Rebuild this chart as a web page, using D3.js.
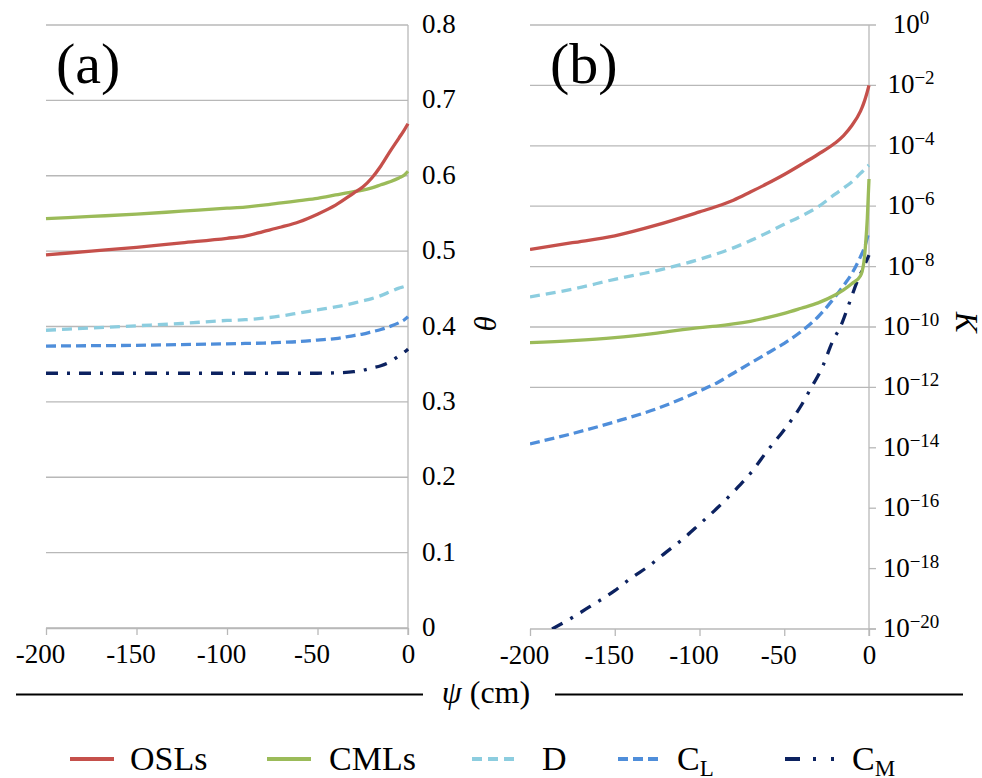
<!DOCTYPE html>
<html>
<head>
<meta charset="utf-8">
<script src="https://cdn.jsdelivr.net/npm/d3@7"></script>
<style>
body{margin:0;background:#fff;}
</style>
</head>
<body>
<div class="canvas"></div>
<script>
// panel (a): water content theta vs psi
const psiA = [-200,-175,-150,-125,-100,-90,-80,-70,-60,-50,-40,-30,-25,-20,-15,-10,-5,-2,0];
const thetaOSL = [.495,.500,.505,.511,.517,.520,.526,.532,.539,.549,.561,.577,.585,.597,.613,.632,.650,.661,.669];
const thetaCML = [.543,.546,.549,.553,.557,.5585,.561,.564,.567,.570,.5745,.579,.581,.584,.588,.592,.597,.601,.606];
const thetaD   = [.395,.398,.401,.404,.408,.409,.411,.414,.418,.422,.426,.431,.434,.437,.441,.446,.451,.453,.455];
const thetaCL  = [.374,.3745,.375,.376,.377,.3775,.378,.379,.380,.382,.384,.388,.390,.393,.396,.400,.405,.409,.413];
const thetaCM  = [.338,.338,.338,.338,.338,.338,.338,.338,.338,.338,.3385,.340,.342,.345,.348,.353,.361,.366,.370];

// panel (b): log10 of conductivity K vs psi
const psiB = [-200,-175,-150,-125,-100,-90,-80,-70,-60,-50,-40,-30,-20,-15,-10,-5,-4,-3,-2,-1,0];
const logOSL = [-7.43,-7.21,-6.98,-6.62,-6.19,-6.01,-5.80,-5.53,-5.25,-4.95,-4.62,-4.28,-3.91,-3.66,-3.32,-2.85,-2.72,-2.57,-2.4,-2.21,-2.0];
const logCML = [-10.52,-10.45,-10.35,-10.2,-10.02,-9.97,-9.90,-9.81,-9.69,-9.55,-9.38,-9.2,-8.94,-8.77,-8.56,-8.3,-8.15,-7.85,-7.25,-6.4,-5.1];
const logD   = [-9.0,-8.75,-8.42,-8.13,-7.76,-7.58,-7.38,-7.14,-6.88,-6.6,-6.33,-6.02,-5.6,-5.4,-5.19,-4.91,-4.86,-4.8,-4.75,-4.69,-4.64];
const logCL  = [-13.87,-13.53,-13.14,-12.7,-12.12,-11.86,-11.53,-11.2,-10.87,-10.54,-10.15,-9.66,-9.0,-8.63,-8.22,-7.67,-7.55,-7.42,-7.25,-7.05,-6.84];
const psiCM  = [-187,-175,-165,-150,-140,-130,-120,-110,-100,-90,-80,-70,-60,-50,-40,-35,-27,-22,-16,-12,-7,-3,0];
const logCM  = [-20.0,-19.62,-19.27,-18.73,-18.3,-17.92,-17.47,-17.03,-16.53,-16.02,-15.46,-14.85,-14.1,-13.4,-12.6,-12.1,-11.26,-10.54,-9.88,-9.27,-8.5,-8.0,-7.62];

const xTicks = [-200,-150,-100,-50,0];
const thetaTicks = [0,0.1,0.2,0.3,0.4,0.5,0.6,0.7,0.8];
const kExps = [0,-2,-4,-6,-8,-10,-12,-14,-16,-18,-20];
const kGridExps = [0,-2,-4,-6,-8,-10,-12];

const names = ["OSLs","CMLs","D","C_L","C_M"];
const colors = ["#C5504B","#9BBB59","#8CCDDF","#4F8EDA","#0C2260"];
const dashes = [null,null,"10,6","10,5","12,9,3,9"];

const W = 982, H = 778;
const SERIF = "Liberation Serif";
const svg = d3.select(".canvas").append("svg").attr("width",W).attr("height",H);

const gridCol = "#B8B8B8";

const xa = d3.scaleLinear().domain([-200,0]).range([46,408]);
const ya = d3.scaleLinear().domain([0,0.8]).range([628,25]);
const xb = d3.scaleLinear().domain([-200,0]).range([530,869]);
const yb = d3.scaleLog().domain([1e-20,1]).range([629,25]);

// ---- panel (a) grid + axes
svg.append("g").selectAll("line").data(thetaTicks).enter().append("line")
  .attr("x1",xa(-200)).attr("x2",xa(0))
  .attr("y1",d=>ya(d)).attr("y2",d=>ya(d))
  .attr("stroke",gridCol).attr("stroke-width",1.3);
svg.append("line").attr("x1",xa(0)).attr("x2",xa(0)).attr("y1",ya(0.8)).attr("y2",ya(0)+7)
  .attr("stroke",gridCol).attr("stroke-width",1.3);
svg.append("g").selectAll("text").data(thetaTicks).enter().append("text")
  .attr("x",xa(0)+14).attr("y",d=>ya(d)+8)
  .attr("font-size",27).text(d=>d===0?"0":d3.format(".1f")(d));

const axA = svg.append("g").attr("transform",`translate(0,${ya(0)})`)
  .call(d3.axisBottom(xa).tickValues(xTicks).tickSize(7).tickPadding(9).tickSizeOuter(0));

// ---- panel (b) grid + axes
svg.append("g").selectAll("line").data(kGridExps).enter().append("line")
  .attr("x1",xb(-200)).attr("x2",xb(0)+7)
  .attr("y1",d=>yb(Math.pow(10,d))).attr("y2",d=>yb(Math.pow(10,d)))
  .attr("stroke",gridCol).attr("stroke-width",1.3);
svg.append("g").selectAll("line").data([-14,-16,-18,-20]).enter().append("line")
  .attr("x1",xb(0)).attr("x2",xb(0)+7)
  .attr("y1",d=>yb(Math.pow(10,d))).attr("y2",d=>yb(Math.pow(10,d)))
  .attr("stroke",gridCol).attr("stroke-width",1.3);
svg.append("line").attr("x1",xb(0)).attr("x2",xb(0)).attr("y1",yb(1)).attr("y2",yb(1e-20)+7)
  .attr("stroke",gridCol).attr("stroke-width",1.3);
const kLab = svg.append("g").selectAll("text").data(kExps).enter().append("text")
  .attr("x",911).attr("y",d=>yb(Math.pow(10,d))+8)
  .attr("text-anchor","middle").attr("font-size",27);
kLab.append("tspan").text("10");
kLab.append("tspan").attr("font-size",19).attr("dy",-9).text(d=>d===0?"0":"\u2212"+(-d));

const axB = svg.append("g").attr("transform",`translate(0,${yb(1e-20)})`)
  .call(d3.axisBottom(xb).tickValues(xTicks).tickSize(7).tickPadding(9).tickSizeOuter(0));
[axA,axB].forEach(ax=>{
  ax.attr("font-family",null);
  ax.select(".domain").attr("stroke",gridCol).attr("stroke-width",1.3);
  ax.selectAll(".tick line").attr("stroke",gridCol).attr("stroke-width",1.3);
  ax.selectAll(".tick text").attr("font-size",27).attr("fill","#000")
    .attr("dx",d=>d<0?-6:0).text(d=>d);
});
axB.select(".domain").attr("d",`M${xb(-200)},0H${xb(0)+7}`);

// ---- curves
const lineA = d3.line().x((d,i)=>xa(psiA[i])).y(d=>ya(d)).curve(d3.curveMonotoneX);
const lineB = (xs)=>d3.line().x((d,i)=>xb(xs[i])).y(d=>yb(Math.pow(10,d))).curve(d3.curveMonotoneX);

const seriesA = [thetaOSL,thetaCML,thetaD,thetaCL,thetaCM];
const drawOrder = [4,3,2,1,0];
drawOrder.forEach(k=>{
  svg.append("path").attr("d",lineA(seriesA[k])).attr("fill","none")
    .attr("stroke",colors[k]).attr("stroke-width",3.3)
    .attr("stroke-dasharray",dashes[k]);
});

svg.append("clipPath").attr("id","clipB").append("rect")
  .attr("x",xb(-200)).attr("y",yb(1)).attr("width",xb(0)-xb(-200)+3).attr("height",yb(1e-20)-yb(1));
const gB = svg.append("g").attr("clip-path","url(#clipB)");
const seriesB = [[psiB,logOSL],[psiB,logCML],[psiB,logD],[psiB,logCL],[psiCM,logCM]];
drawOrder.forEach(k=>{
  gB.append("path").attr("d",lineB(seriesB[k][0])(seriesB[k][1])).attr("fill","none")
    .attr("stroke",colors[k]).attr("stroke-width",3.3)
    .attr("stroke-dasharray",dashes[k]);
});

// ---- panel letters & axis titles
svg.append("text").attr("x",56).attr("y",83).attr("font-size",58).text("(a)");
svg.append("text").attr("x",550).attr("y",83).attr("font-size",58).text("(b)");

svg.append("text").attr("font-size",31).attr("font-style","italic")
  .attr("text-anchor","middle")
  .attr("transform","translate(474,323) rotate(90)").text("\u03B8");
svg.append("text").attr("font-size",31).attr("font-style","italic")
  .attr("text-anchor","middle")
  .attr("transform","translate(956,322) rotate(90)").text("K");

svg.append("line").attr("x1",16).attr("x2",423).attr("y1",694.5).attr("y2",694.5)
  .attr("stroke","#000").attr("stroke-width",2);
svg.append("line").attr("x1",555).attr("x2",963).attr("y1",694.5).attr("y2",694.5)
  .attr("stroke","#000").attr("stroke-width",2);
const psiT = svg.append("text").attr("x",486).attr("y",703).attr("text-anchor","middle").attr("font-size",32);
psiT.append("tspan").attr("font-style","italic").text("\u03C8");
psiT.append("tspan").text(" (cm)");

// ---- legend
const legX = [70,267,472,618,785];
const legTextX = [130,329,542,677,852];
const legDash = [null,null,"10,6","10,5","15,13,3,15,3,20"];
names.forEach((n,k)=>{
  svg.append("line").attr("x1",legX[k]).attr("x2",legX[k]+(k===4?50:44))
    .attr("y1",759).attr("y2",759)
    .attr("stroke",colors[k]).attr("stroke-width",4)
    .attr("stroke-dasharray",legDash[k]);
  const t = svg.append("text").attr("x",legTextX[k]).attr("y",770).attr("font-size",34);
  if(n.indexOf("_")>0){
    const p = n.split("_");
    t.append("tspan").text(p[0]);
    t.append("tspan").attr("font-size",23).attr("dy",6).text(p[1]);
  } else t.text(n);
});

// every text in the serif face
svg.selectAll("text").attr("font-family",SERIF);
</script>
</body>
</html>
